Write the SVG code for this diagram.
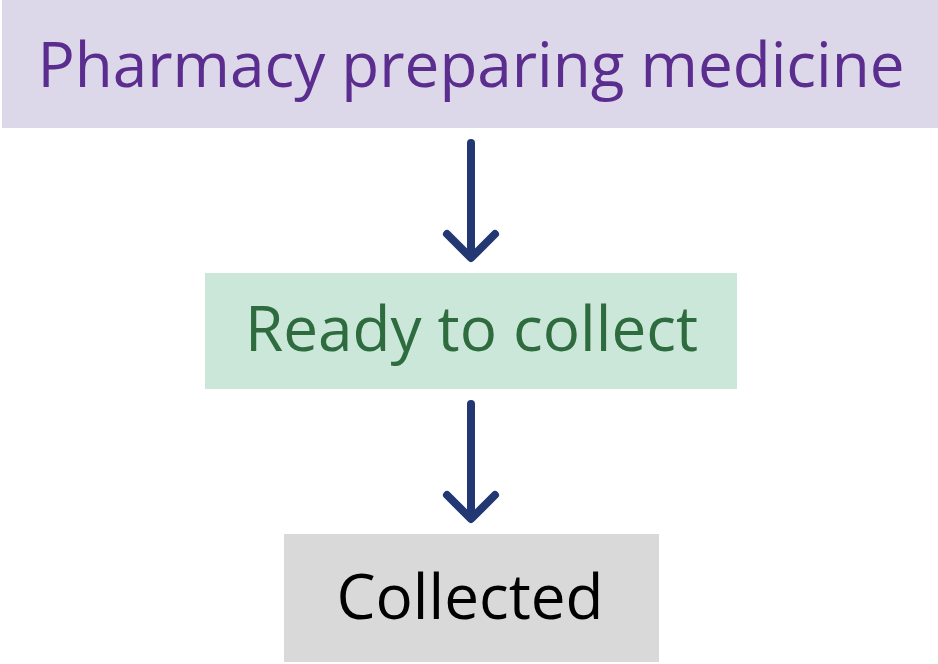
<svg xmlns="http://www.w3.org/2000/svg" width="938" height="664" viewBox="0 0 938 664">
<style>
.lbl{font-family:"Open Sans","Noto Sans","Liberation Sans",sans-serif;font-size:62px;text-anchor:middle}
.arrow{fill:none;stroke:#233873;stroke-width:8;stroke-linecap:round;stroke-linejoin:round}
</style>
<rect width="938" height="664" fill="#ffffff"/>
<g id="node-pharmacy">
<rect x="2" y="0" width="936" height="128" fill="#dcd8ea"/>
<text class="lbl" x="471" y="87" fill="#5b2d8f">Pharmacy preparing medicine</text>
</g>
<g id="node-ready">
<rect x="205" y="273" width="532" height="116" fill="#cbe7da"/>
<text class="lbl" x="471.5" y="351" fill="#2e6b3e">Ready to collect</text>
</g>
<g id="node-collected">
<rect x="284" y="534" width="375" height="128" fill="#d9d9d9"/>
<text class="lbl" x="470" y="619" fill="#000000">Collected</text>
</g>
<g id="connectors">
<path class="arrow" d="M471 143 V257 M447 234 L471 258 L495 234"/>
<path class="arrow" d="M471 404 V518 M447 495 L471 519 L495 495"/>
</g>
</svg>
